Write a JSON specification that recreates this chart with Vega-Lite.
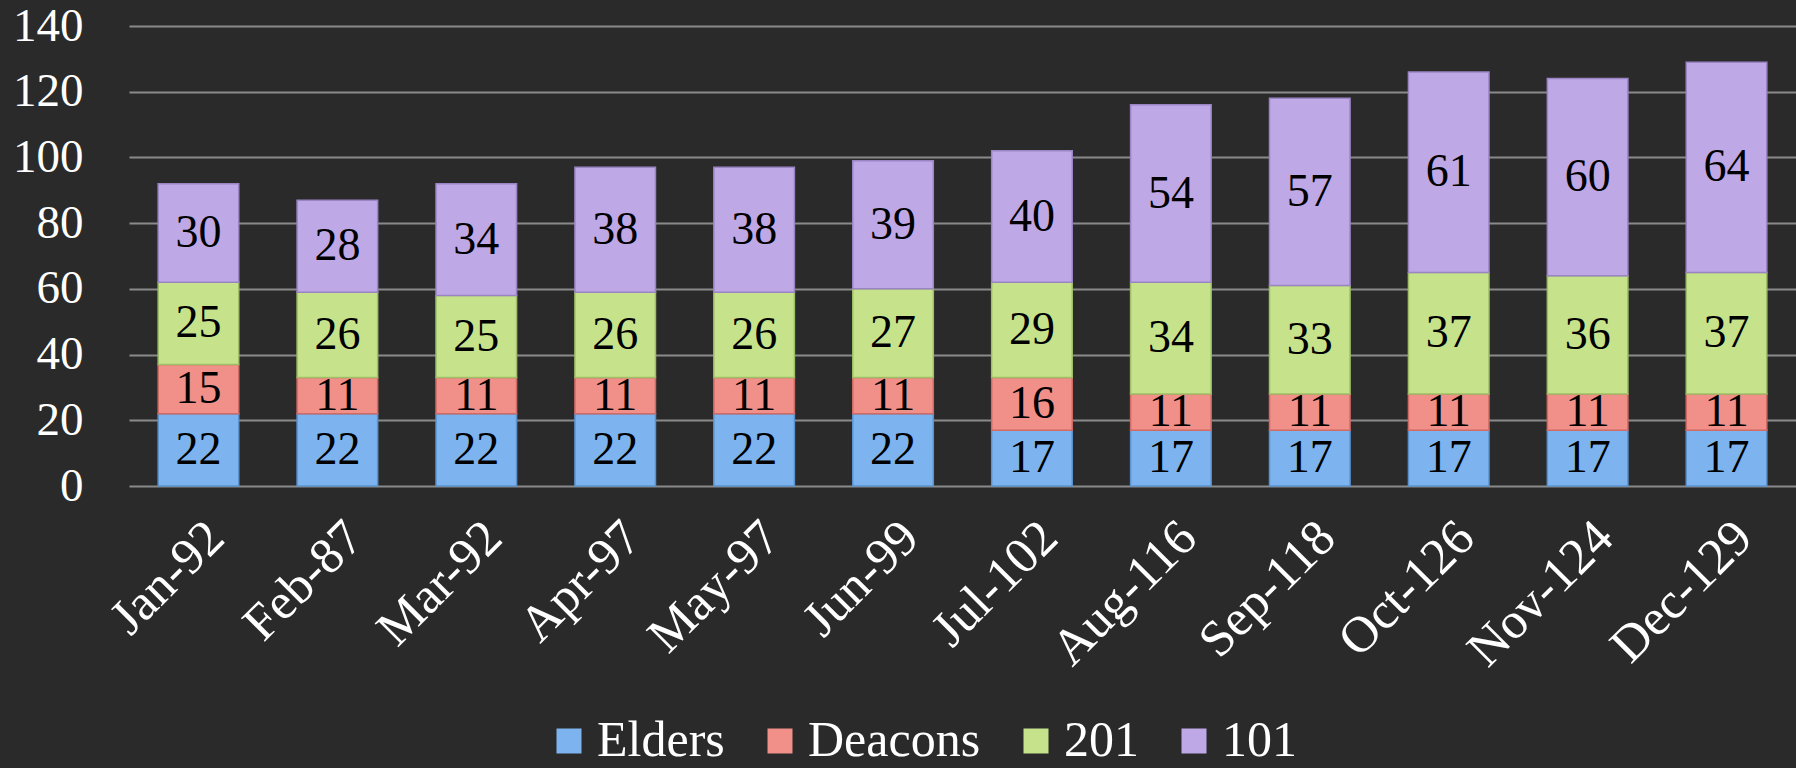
{
  "$schema": "https://vega.github.io/schema/vega-lite/v6.json",
  "width": 1667,
  "height": 460,
  "autosize": {"type": "none"},
  "padding": {"left": 129, "top": 26, "right": 0, "bottom": 282},
  "background": "#2a2a2a",
  "config": {"view": {"stroke": null}, "font": "Liberation Serif"},
  "data": {
    "values": [
      {"month": "Jan-92", "series": "Elders", "ord": 1, "value": 22},
      {"month": "Jan-92", "series": "Deacons", "ord": 2, "value": 15},
      {"month": "Jan-92", "series": "201", "ord": 3, "value": 25},
      {"month": "Jan-92", "series": "101", "ord": 4, "value": 30},
      {"month": "Feb-87", "series": "Elders", "ord": 1, "value": 22},
      {"month": "Feb-87", "series": "Deacons", "ord": 2, "value": 11},
      {"month": "Feb-87", "series": "201", "ord": 3, "value": 26},
      {"month": "Feb-87", "series": "101", "ord": 4, "value": 28},
      {"month": "Mar-92", "series": "Elders", "ord": 1, "value": 22},
      {"month": "Mar-92", "series": "Deacons", "ord": 2, "value": 11},
      {"month": "Mar-92", "series": "201", "ord": 3, "value": 25},
      {"month": "Mar-92", "series": "101", "ord": 4, "value": 34},
      {"month": "Apr-97", "series": "Elders", "ord": 1, "value": 22},
      {"month": "Apr-97", "series": "Deacons", "ord": 2, "value": 11},
      {"month": "Apr-97", "series": "201", "ord": 3, "value": 26},
      {"month": "Apr-97", "series": "101", "ord": 4, "value": 38},
      {"month": "May-97", "series": "Elders", "ord": 1, "value": 22},
      {"month": "May-97", "series": "Deacons", "ord": 2, "value": 11},
      {"month": "May-97", "series": "201", "ord": 3, "value": 26},
      {"month": "May-97", "series": "101", "ord": 4, "value": 38},
      {"month": "Jun-99", "series": "Elders", "ord": 1, "value": 22},
      {"month": "Jun-99", "series": "Deacons", "ord": 2, "value": 11},
      {"month": "Jun-99", "series": "201", "ord": 3, "value": 27},
      {"month": "Jun-99", "series": "101", "ord": 4, "value": 39},
      {"month": "Jul-102", "series": "Elders", "ord": 1, "value": 17},
      {"month": "Jul-102", "series": "Deacons", "ord": 2, "value": 16},
      {"month": "Jul-102", "series": "201", "ord": 3, "value": 29},
      {"month": "Jul-102", "series": "101", "ord": 4, "value": 40},
      {"month": "Aug-116", "series": "Elders", "ord": 1, "value": 17},
      {"month": "Aug-116", "series": "Deacons", "ord": 2, "value": 11},
      {"month": "Aug-116", "series": "201", "ord": 3, "value": 34},
      {"month": "Aug-116", "series": "101", "ord": 4, "value": 54},
      {"month": "Sep-118", "series": "Elders", "ord": 1, "value": 17},
      {"month": "Sep-118", "series": "Deacons", "ord": 2, "value": 11},
      {"month": "Sep-118", "series": "201", "ord": 3, "value": 33},
      {"month": "Sep-118", "series": "101", "ord": 4, "value": 57},
      {"month": "Oct-126", "series": "Elders", "ord": 1, "value": 17},
      {"month": "Oct-126", "series": "Deacons", "ord": 2, "value": 11},
      {"month": "Oct-126", "series": "201", "ord": 3, "value": 37},
      {"month": "Oct-126", "series": "101", "ord": 4, "value": 61},
      {"month": "Nov-124", "series": "Elders", "ord": 1, "value": 17},
      {"month": "Nov-124", "series": "Deacons", "ord": 2, "value": 11},
      {"month": "Nov-124", "series": "201", "ord": 3, "value": 36},
      {"month": "Nov-124", "series": "101", "ord": 4, "value": 60},
      {"month": "Dec-129", "series": "Elders", "ord": 1, "value": 17},
      {"month": "Dec-129", "series": "Deacons", "ord": 2, "value": 11},
      {"month": "Dec-129", "series": "201", "ord": 3, "value": 37},
      {"month": "Dec-129", "series": "101", "ord": 4, "value": 64}
    ]
  },
  "transform": [
    {"stack": "value", "groupby": ["month"], "sort": [{"field": "ord", "order": "ascending"}], "as": ["v0", "v1"]},
    {"calculate": "(datum.v0 + datum.v1) / 2", "as": "mid"}
  ],
  "encoding": {
    "x": {
      "field": "month",
      "type": "nominal",
      "sort": ["Jan-92", "Feb-87", "Mar-92", "Apr-97", "May-97", "Jun-99", "Jul-102", "Aug-116", "Sep-118", "Oct-126", "Nov-124", "Dec-129"],
      "scale": {"paddingInner": 0.42, "paddingOuter": 0.21},
      "axis": {
        "title": null,
        "labelAngle": -45,
        "labelFontSize": 51,
        "labelColor": "#ffffff",
        "labelPadding": 26,
        "labelLimit": 0,
        "domain": false,
        "ticks": false
      }
    }
  },
  "layer": [
    {
      "mark": {"type": "bar", "strokeWidth": 1.5},
      "encoding": {
        "y": {
          "field": "v0",
          "type": "quantitative",
          "scale": {"domain": [0, 140]},
          "axis": {
            "title": null,
            "values": [0, 20, 40, 60, 80, 100, 120, 140],
            "labelFontSize": 47,
            "labelColor": "#ffffff",
            "labelPadding": 46,
            "domain": false,
            "ticks": false,
            "grid": true,
            "gridColor": "#8a8a8a",
            "gridWidth": 2
          }
        },
        "y2": {"field": "v1"},
        "color": {
          "field": "series",
          "type": "nominal",
          "scale": {"domain": ["Elders", "Deacons", "201", "101"], "range": ["#7db4ef", "#f18f89", "#c6e38c", "#bfa8e6"]},
          "legend": {
            "title": null,
            "orient": "none",
            "direction": "horizontal",
            "legendX": 415,
            "legendY": 690,
            "symbolType": "square",
            "symbolSize": 625,
            "symbolStrokeWidth": 0,
            "labelFontSize": 50,
            "labelColor": "#ffffff",
            "labelOffset": 3,
            "columnPadding": 30,
            "labelLimit": 400
          }
        },
        "stroke": {
          "field": "series",
          "type": "nominal",
          "scale": {"domain": ["Elders", "Deacons", "201", "101"], "range": ["#5a92cf", "#cf6a64", "#9fbe66", "#9a84c4"]},
          "legend": null
        }
      }
    },
    {
      "mark": {"type": "text", "fontSize": 46, "color": "#000000", "baseline": "middle", "align": "center"},
      "encoding": {
        "y": {"field": "mid", "type": "quantitative"},
        "text": {"field": "value", "type": "quantitative"}
      }
    }
  ]
}
